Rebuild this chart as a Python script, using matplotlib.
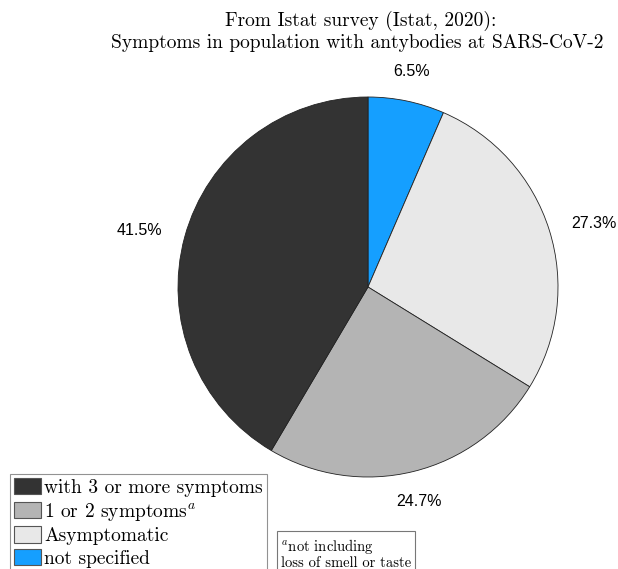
import numpy as np
import matplotlib.pyplot as plt
from matplotlib.patches import Rectangle

plt.rcParams['mathtext.fontset'] = 'cm'

# Data (clockwise from the top)
labels = ['not specified', 'Asymptomatic', '1 or 2 symptoms$^a$', 'with 3 or more symptoms']
shares = [6.5, 27.3, 24.7, 41.5]
colors = ['#159fff', '#e8e8e8', '#b4b4b4', '#333333']

fig = plt.figure(figsize=(6.18, 5.69), dpi=100)
# pie of radius ~190 px centred near (368, 287)
ax = fig.add_axes([178 / 618, 92 / 569, 380 / 618, 380 / 569])

wedges, texts, autotexts = ax.pie(
    shares, colors=colors, startangle=90, counterclock=False,
    autopct='%.1f%%', pctdistance=1.12,
    wedgeprops=dict(edgecolor='#222222', linewidth=0.6),
    textprops=dict(fontsize=11.5, family='Liberation Sans'))
ax.set_xlim(-1, 1)
ax.set_ylim(-1, 1)
ax.set_aspect('equal')

# align the percentages outward, like the original
for w, t in zip(wedges, autotexts):
    ang = np.deg2rad((w.theta1 + w.theta2) / 2)
    c, s = np.cos(ang), np.sin(ang)
    t.set_ha('left' if c > 0.4 else 'right' if c < -0.4 else 'center')
    t.set_va('bottom' if s > 0.4 else 'top' if s < -0.4 else 'center')

fig.text(0.583, 0.964, 'From Istat survey (Istat, 2020):', ha='center', va='center',
         family='cmr10', fontsize=14)
fig.text(0.578, 0.925, 'Symptoms in population with antybodies at SARS-CoV-2', ha='center',
         va='center', family='cmr10', fontsize=14)

# legend, order as in the reference
order = [3, 2, 1, 0]
handles = [Rectangle((0, 0), 1, 1, facecolor=colors[i], edgecolor='#555555', linewidth=0.8)
           for i in order]
leg = fig.legend(handles, [labels[i] for i in order], loc='upper left',
                 bbox_to_anchor=(10 / 618, 1 - 474 / 569), fancybox=False, edgecolor='#777777',
                 handlelength=1.4, handleheight=0.9, handletextpad=0.15, labelspacing=0.2,
                 borderpad=0.2, borderaxespad=0, prop=dict(family='cmr10', size=14))
leg.get_frame().set_linewidth(0.8)

fig.text(281 / 618, 1 - 537 / 569, '$^a$not including\nloss of smell or taste', ha='left',
         va='top', family='cmr10', fontsize=10.5, linespacing=1.05,
         bbox=dict(boxstyle='square,pad=0.25', facecolor='white', edgecolor='#777777',
                   linewidth=0.8))

fig.savefig('out.png', dpi=100)
